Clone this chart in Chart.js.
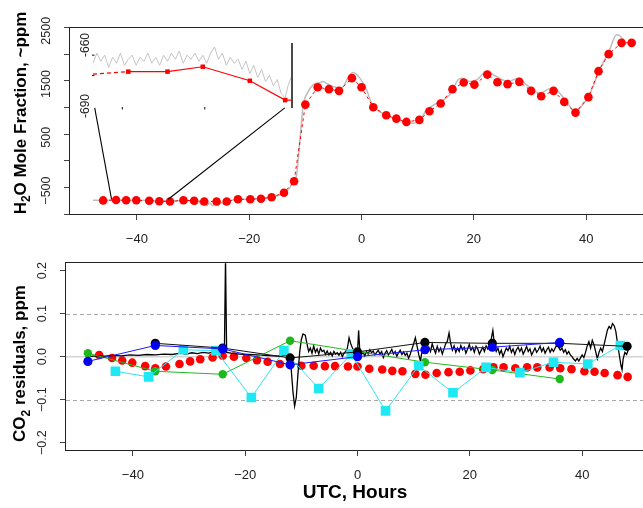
<!DOCTYPE html>
<html>
<head>
<meta charset="utf-8">
<script src="https://cdn.jsdelivr.net/npm/chart.js@4.4.0/dist/chart.umd.min.js"></script>
<style>
  html, body { margin: 0; padding: 0; background: #fff; }
  #page { position: relative; width: 643px; height: 508px; overflow: hidden; background: #fff; }
  #h2oChart { position: absolute; left: 0; top: 0; }
  #insetChart { position: absolute; left: 70px; top: 28px; }
  #co2Chart { position: absolute; left: 0; top: 250px; }
</style>
</head>
<body>
<div id="page">
  <canvas id="h2oChart" width="660" height="250"></canvas>
  <canvas id="insetChart" width="240" height="95"></canvas>
  <canvas id="co2Chart" width="660" height="258"></canvas>
</div>
<script>
// sample times shared by both panels (hours from UTC 0)
const sampleHours = [-46.0, -43.7, -41.9, -40.1, -37.8, -36.0, -34.1, -31.7, -29.8, -28.0, -25.8, -24.0,
  -22.0, -19.8, -17.9, -16.0, -13.8, -12.0, -10.0, -7.8, -5.8, -4.0, -1.7, 0.0,
  2.1, 4.4, 6.2, 8.0, 10.3, 12.1, 14.1, 16.2, 18.2, 20.1, 22.4, 24.2,
  26.0, 28.1, 30.2, 32.0, 34.2, 36.1, 38.1, 40.4, 42.2, 44.0, 46.3, 48.1];

const h2oPpm = [-685, -677, -683, -683, -690, -700, -705, -683, -690, -705, -705, -705,
  -664, -664, -653, -626, -540, -326, 1114, 1441, 1404, 1372, 1611, 1441,
  1064, 915, 851, 789, 827, 990, 1135, 1404, 1528, 1490, 1678, 1535,
  1498, 1541, 1372, 1272, 1372, 1165, 964, 1254, 1742, 2062, 2274, 2274];

const co2Resid = [0.004, -0.003, -0.009, -0.014, -0.022, -0.027, -0.023, -0.017, -0.011, -0.006, -0.002, 0.002,
  0.0, -0.003, -0.008, -0.012, -0.017, -0.019, -0.021, -0.021, -0.022, -0.022, -0.023, -0.023,
  -0.028, -0.030, -0.033, -0.034, -0.040, -0.042, -0.038, -0.036, -0.035, -0.032, -0.029, -0.025,
  -0.025, -0.027, -0.025, -0.025, -0.025, -0.027, -0.029, -0.034, -0.035, -0.038, -0.043, -0.047];

// continuous analyser record of H2O, [hours, ppm]
const h2oTrace = [[-47.8, -682], [-46, -684], [-44, -680], [-42, -682], [-40, -684], [-38, -688], [-36, -694],
  [-34, -696], [-32, -686], [-30.5, -690], [-30, -720], [-29.5, -760], [-29, -700], [-28.5, -770], [-28, -720],
  [-27.5, -780], [-27, -735], [-26.5, -785], [-26, -740], [-25.5, -775], [-25, -725], [-24.5, -760], [-24, -705],
  [-22, -668], [-20, -662], [-18, -650], [-16, -628], [-14.5, -580], [-13.2, -500], [-12.3, -380], [-11.6, -239],
  [-11, 400], [-10.4, 1077], [-9.5, 1359], [-8.6, 1485], [-7.4, 1528], [-6.9, 1547], [-6, 1500], [-5.1, 1453],
  [-3.6, 1423], [-2.1, 1673], [-1.5, 1716], [-0.3, 1611], [0.9, 1391], [1.8, 1141], [3.2, 983], [5.0, 889],
  [7.4, 795], [9.2, 765], [10.4, 827], [11.6, 1015], [13.4, 1141], [15.7, 1297], [17.2, 1579], [17.8, 1611],
  [19.3, 1547], [20.5, 1579], [22.3, 1735], [24.0, 1641], [26.1, 1547], [27.9, 1611], [29.4, 1485], [31.8, 1329],
  [33.8, 1423], [34.7, 1391], [36.5, 1171], [38.0, 983], [38.9, 1047], [40.7, 1329], [42.4, 1767], [44.2, 2150],
  [45.4, 2425], [46.0, 2406], [46.9, 2299]];

// zoomed window of the dry period
const insetSampleHours = [-45.8, -44.0, -42.0, -40.2, -37.8, -36.0, -35.65];
const insetSamplePpm = [-674.3, -673.1, -673.1, -670.7, -677.6, -687.1, -687.1];
const insetTrace = [[-45.8, -669], [-45.6, -664], [-45.4, -668], [-45.2, -665], [-45.0, -671], [-44.8, -666],
  [-44.6, -669], [-44.4, -664], [-44.2, -670], [-44.0, -667], [-43.8, -665], [-43.6, -670], [-43.4, -666],
  [-43.2, -668], [-43.0, -664], [-42.8, -669], [-42.6, -666], [-42.4, -670], [-42.2, -665], [-42.0, -668],
  [-41.8, -664], [-41.6, -667], [-41.4, -663], [-41.2, -669], [-41.0, -665], [-40.8, -667], [-40.6, -664],
  [-40.4, -668], [-40.2, -665], [-40.0, -669], [-39.8, -664], [-39.6, -661], [-39.4, -667], [-39.2, -664],
  [-39.0, -670], [-38.8, -666], [-38.6, -669], [-38.4, -667], [-38.2, -672], [-38.0, -668], [-37.8, -674],
  [-37.6, -670], [-37.4, -676], [-37.2, -672], [-37.0, -678], [-36.8, -675], [-36.6, -680], [-36.4, -677],
  [-36.2, -684], [-36.0, -686], [-35.85, -680], [-35.7, -676]];

// CO2 residuals of the other comparisons
const blueHours = [-48, -36, -24, -12, 0, 12, 24, 36];
const blueResid = [-0.011, 0.026, 0.018, -0.019, 0.0, 0.016, 0.022, 0.033];
const greenHours = [-48, -36, -24, -12, 12, 24, 36];
const greenResid = [0.008, -0.034, -0.041, 0.037, -0.013, -0.031, -0.052];
const blackHours = [-36, -24, -12, 0, 12, 24, 36, 48];
const blackResid = [0.031, 0.020, -0.003, 0.011, 0.033, 0.031, 0.031, 0.024];
const cyanHours = [-43.1, -37.2, -31.0, -25.2, -18.9, -13.1, -6.9, -1.1, 5.0, 10.9, 17.0, 22.9, 28.9, 34.9, 41.0, 46.8];
const cyanResid = [-0.034, -0.047, 0.016, 0.014, -0.095, 0.014, -0.074, 0.006, -0.126, -0.021, -0.084, -0.025,
  -0.037, -0.013, -0.017, 0.026];

// continuous CO2 residual record, [hours, ppm]
const co2Trace = [[-48, 0.0], [-46.5, 0.002], [-45, 0.001], [-43.5, 0.003], [-42, 0.002], [-40.5, 0.004],
  [-39, 0.003], [-37.5, 0.005], [-36, 0.004], [-34.5, 0.006], [-33, 0.005], [-31.5, 0.008], [-30.5, 0.006],
  [-29.5, 0.009], [-28.5, 0.007], [-27.5, 0.01], [-26.5, 0.008], [-25.5, 0.011], [-24.5, 0.009], [-23.7, 0.01],
  [-23.5, 0.23], [-23.3, 0.01], [-22.5, 0.008], [-21, 0.006], [-19.5, 0.005], [-18, 0.004], [-16.5, 0.003],
  [-15, 0.002], [-13.5, 0.001], [-12.6, 0.004], [-12.2, -0.004], [-11.8, -0.03], [-11.5, -0.08], [-11.2, -0.115],
  [-10.9, -0.095], [-10.6, -0.04], [-10.3, 0.01], [-10.0, 0.04], [-9.7, 0.053], [-9.3, 0.05], [-9.0, 0.03],
  [-8.7, 0.012], [-8.4, 0.02], [-8.1, 0.008], [-7.8, 0.025], [-7.5, 0.01], [-7.2, 0.018], [-6.9, 0.006],
  [-6.6, 0.02], [-6.3, 0.012], [-6.0, 0.015], [-5.7, 0.005], [-5.4, 0.013], [-5.1, 0.004], [-4.8, 0.01],
  [-4.5, 0.002], [-4.2, 0.012], [-3.9, 0.006], [-3.6, 0.009], [-3.3, 0.003], [-3.0, 0.01], [-2.7, 0.0],
  [-2.4, 0.008], [-2.1, 0.012], [-1.8, 0.02], [-1.5, 0.044], [-1.2, 0.03], [-0.9, 0.02], [-0.6, 0.012],
  [-0.3, 0.018], [0.0, 0.01], [0.2, 0.061], [0.4, 0.015], [0.7, 0.005], [1.0, 0.01], [1.3, 0.002], [1.6, 0.012],
  [1.9, 0.006], [2.2, 0.016], [2.5, 0.009], [2.8, 0.013], [3.1, 0.004], [3.4, 0.01], [3.7, 0.015], [4.0, 0.006],
  [4.3, 0.012], [4.6, -0.002], [4.9, 0.008], [5.2, 0.014], [5.5, 0.004], [5.8, 0.01], [6.1, 0.017], [6.4, 0.006],
  [6.7, 0.012], [7.0, 0.001], [7.3, 0.009], [7.6, 0.015], [7.9, 0.005], [8.2, 0.011], [8.5, 0.003], [8.8, 0.008],
  [9.1, -0.004], [9.4, 0.006], [9.7, 0.018], [10.0, 0.03], [10.3, 0.044], [10.6, 0.025], [10.9, 0.005],
  [11.2, -0.01], [11.5, 0.012], [11.8, 0.02], [12.1, 0.028], [12.4, 0.01], [12.7, 0.022], [13.0, 0.012],
  [13.3, 0.03], [13.6, 0.018], [13.9, 0.008], [14.2, 0.024], [14.5, 0.012], [14.8, 0.02], [15.1, 0.006],
  [15.4, 0.018], [15.7, 0.03], [16.0, 0.036], [16.3, 0.055], [16.6, 0.03], [16.9, 0.015], [17.2, 0.025],
  [17.5, 0.01], [17.8, 0.02], [18.1, 0.012], [18.4, 0.026], [18.7, 0.016], [19.0, 0.022], [19.3, 0.008],
  [19.6, 0.018], [19.9, 0.028], [20.2, 0.015], [20.5, 0.022], [20.8, 0.01], [21.1, 0.024], [21.4, 0.018],
  [21.7, 0.006], [22.0, 0.014], [22.3, 0.022], [22.6, 0.012], [22.9, 0.025], [23.2, 0.018], [23.5, 0.028],
  [23.8, 0.04], [24.1, 0.061], [24.4, 0.025], [24.7, 0.012], [25.0, 0.02], [25.3, 0.006], [25.6, 0.015],
  [25.9, 0.0], [26.2, 0.01], [26.5, 0.02], [26.8, 0.014], [27.1, 0.024], [27.4, 0.01], [27.7, 0.018],
  [28.0, 0.005], [28.3, 0.016], [28.6, 0.022], [28.9, 0.012], [29.2, 0.02], [29.5, 0.006], [29.8, 0.014],
  [30.1, 0.024], [30.4, 0.012], [30.7, 0.018], [31.0, 0.004], [31.3, 0.012], [31.6, 0.02], [31.9, 0.01],
  [32.2, 0.016], [32.5, 0.024], [32.8, 0.012], [33.1, 0.02], [33.4, 0.008], [33.7, 0.016], [34.0, 0.022],
  [34.3, 0.01], [34.6, 0.018], [34.9, 0.012], [35.2, 0.02], [35.5, 0.028], [35.8, 0.022], [36.1, 0.015],
  [36.4, 0.02], [36.7, 0.01], [37.0, 0.016], [37.3, 0.006], [37.6, 0.012], [37.9, 0.004], [38.2, 0.0],
  [38.5, -0.006], [38.8, -0.01], [39.1, -0.004], [39.4, -0.01], [39.7, -0.003], [40.0, 0.004], [40.3, -0.002],
  [40.6, 0.01], [40.9, 0.025], [41.2, 0.035], [41.5, 0.02], [41.8, 0.038], [42.1, 0.028], [42.4, 0.012],
  [42.7, -0.005], [43.0, 0.01], [43.3, 0.02], [43.6, 0.012], [43.9, 0.028], [44.2, 0.045], [44.5, 0.062],
  [44.8, 0.07], [45.1, 0.065], [45.4, 0.077], [45.7, 0.072], [46.0, 0.058], [46.3, 0.03], [46.6, 0.005],
  [46.9, -0.02], [47.1, -0.03], [47.3, -0.005], [47.6, 0.01], [47.9, 0.005], [48.2, 0.015]];

const h2oTickLabels = [2500, 1500, 500, -500];
const co2TickLabels = [0.2, 0.1, 0.0, -0.1, -0.2];
const hourTicks = [-40, -20, 0, 20, 40];

const FONT = "'Liberation Sans', Arial, Helvetica, sans-serif";
Chart.defaults.font.family = FONT;
Chart.defaults.color = '#222';

const toPoints = (xs, ys) => xs.map((x, i) => ({ x, y: ys[i] }));
const pairPoints = pairs => pairs.map(([x, y]) => ({ x, y }));
const signed = s => s.replace('-', '\u2212');

function hourAxis(height) {
  return {
    type: 'linear', min: -51.9, max: 51.9,
    afterFit: s => { s.height = height; },
    afterBuildTicks: s => { s.ticks = hourTicks.map(value => ({ value })); },
    border: { display: false },
    grid: { drawOnChartArea: false, drawTicks: true, tickLength: 6, tickColor: '#444' },
    ticks: { padding: 12, maxRotation: 0, font: { size: 13 }, color: '#222',
      callback: v => signed(String(v)) }
  };
}

function valueAxis(min, max, step, width) {
  return {
    type: 'linear', min, max,
    afterFit: s => { s.width = width; },
    border: { display: false },
    grid: { drawOnChartArea: false, drawTicks: true, tickLength: 6, tickColor: '#444' },
    ticks: { stepSize: step, includeBounds: false, display: false }
  };
}

function drawBox(chart) {
  const { ctx, chartArea: a } = chart;
  ctx.save();
  ctx.strokeStyle = '#222';
  ctx.lineWidth = 1;
  const l = Math.round(a.left) - 0.5, t = Math.round(a.top) - 0.5;
  ctx.strokeRect(l, t, Math.round(a.right) - l + 0.5, Math.round(a.bottom) - t + 0.5);
  ctx.restore();
}

// R style vertical tick labels along the left axis
function drawYTickLabels(chart, values, fmt) {
  const { ctx, chartArea: a, scales: { y } } = chart;
  ctx.save();
  ctx.font = '12.5px ' + FONT;
  ctx.fillStyle = '#222';
  ctx.textAlign = 'center';
  ctx.textBaseline = 'alphabetic';
  values.forEach(v => {
    ctx.save();
    ctx.translate(a.left - 20.5, y.getPixelForValue(v));
    ctx.rotate(-Math.PI / 2);
    ctx.fillText(fmt(v), 0, 0);
    ctx.restore();
  });
  ctx.restore();
}

// bold rotated axis title, pieces flagged sub are set as subscripts
function drawYTitle(ctx, cx, cy, pieces) {
  const size = 17;
  ctx.save();
  ctx.translate(cx, cy);
  ctx.rotate(-Math.PI / 2);
  ctx.fillStyle = '#000';
  ctx.textBaseline = 'alphabetic';
  ctx.textAlign = 'left';
  const fontFor = p => 'bold ' + (p.sub ? 12 : size) + 'px ' + FONT;
  let total = 0;
  pieces.forEach(p => { ctx.font = fontFor(p); total += ctx.measureText(p.t).width; });
  let x = -total / 2;
  pieces.forEach(p => {
    ctx.font = fontFor(p);
    ctx.fillText(p.t, x, p.sub ? 4.5 : 0);
    x += ctx.measureText(p.t).width;
  });
  ctx.restore();
}

const h2oFrame = {
  id: 'h2oFrame',
  afterDatasetsDraw(chart) {
    const { ctx, scales: { x, y } } = chart;
    // lines tying the zoom window to the dry segment
    const links = [[-47.5, 1052, -44.5, -664], [-13.66, 1052, -34.4, -664]];
    ctx.save();
    ctx.strokeStyle = '#000';
    ctx.lineWidth = 1.1;
    links.forEach(([x0, y0, x1, y1]) => {
      ctx.beginPath();
      ctx.moveTo(x.getPixelForValue(x0), y.getPixelForValue(y0));
      ctx.lineTo(x.getPixelForValue(x1), y.getPixelForValue(y1));
      ctx.stroke();
    });
    ctx.restore();
  },
  afterDraw(chart) {
    drawBox(chart);
    drawYTickLabels(chart, h2oTickLabels, v => signed(String(v)));
    drawYTitle(chart.ctx, 25.5, 113, [{ t: 'H' }, { t: '2', sub: true }, { t: 'O Mole Fraction, ~ppm' }]);
  }
};

const co2Frame = {
  id: 'co2Frame',
  beforeDatasetsDraw(chart) {
    const { ctx, chartArea: a, scales: { y } } = chart;
    ctx.save();
    ctx.strokeStyle = '#d4d4d4';
    ctx.lineWidth = 1.5;
    const y0 = y.getPixelForValue(0);
    ctx.beginPath(); ctx.moveTo(a.left, y0); ctx.lineTo(a.right, y0); ctx.stroke();
    ctx.strokeStyle = '#a8a8a8';
    ctx.lineWidth = 1;
    ctx.setLineDash([4, 3]);
    [0.1, -0.1].forEach(v => {
      const py = Math.round(y.getPixelForValue(v)) + 0.5;
      ctx.beginPath(); ctx.moveTo(a.left, py); ctx.lineTo(a.right, py); ctx.stroke();
    });
    ctx.restore();
  },
  afterDraw(chart) {
    const { ctx } = chart;
    drawBox(chart);
    drawYTickLabels(chart, co2TickLabels, v => signed(v.toFixed(1)));
    drawYTitle(ctx, 25, 113.5, [{ t: 'CO' }, { t: '2', sub: true }, { t: ' residuals, ppm' }]);
    ctx.save();
    ctx.font = 'bold 19px ' + FONT;
    ctx.fillStyle = '#000';
    ctx.textAlign = 'center';
    ctx.textBaseline = 'alphabetic';
    ctx.fillText('UTC, Hours', 355, 248);
    ctx.restore();
  }
};

const insetFrame = {
  id: 'insetFrame',
  afterDraw(chart) {
    const { ctx, chartArea: a, scales: { x, y } } = chart;
    ctx.save();
    ctx.font = '12px ' + FONT;
    ctx.fillStyle = '#222';
    ctx.textAlign = 'center';
    ctx.textBaseline = 'middle';
    [-660, -690].forEach(v => {
      ctx.save();
      ctx.translate(a.left - 7, y.getPixelForValue(v));
      ctx.rotate(-Math.PI / 2);
      ctx.fillText(String(v), 0, 0);
      ctx.restore();
    });
    // tiny axis marks
    ctx.strokeStyle = '#333';
    ctx.lineWidth = 1.2;
    [-665, -675].forEach(v => {
      const py = y.getPixelForValue(v);
      ctx.beginPath(); ctx.moveTo(a.left - 1, py); ctx.lineTo(a.left + 1.5, py); ctx.stroke();
    });
    [-44.3, -40.1].forEach(v => {
      const px = x.getPixelForValue(v);
      ctx.beginPath(); ctx.moveTo(px, a.bottom - 1); ctx.lineTo(px, a.bottom + 1.5); ctx.stroke();
    });
    // right edge of the window
    ctx.strokeStyle = '#4a4a4a';
    ctx.lineWidth = 2;
    ctx.beginPath(); ctx.moveTo(a.right, a.top + 8); ctx.lineTo(a.right, a.bottom); ctx.stroke();
    ctx.restore();
  }
};

const common = {
  responsive: false,
  animation: false,
  devicePixelRatio: 1,
  events: [],
  plugins: { legend: { display: false }, tooltip: { enabled: false } }
};

new Chart(document.getElementById('h2oChart'), {
  type: 'scatter',
  data: {
    datasets: [
      { label: 'flask H2O', data: toPoints(sampleHours, h2oPpm), showLine: true,
        borderColor: '#ff0000', borderWidth: 1, borderDash: [3, 3],
        pointRadius: 4.3, pointBackgroundColor: '#ff0000', pointBorderWidth: 0, order: 0 },
      { label: 'analyser H2O', data: pairPoints(h2oTrace), showLine: true,
        borderColor: '#bdbdbd', borderWidth: 1.5, pointRadius: 0,
        cubicInterpolationMode: 'monotone', order: 1 }
    ]
  },
  options: {
    ...common,
    layout: { padding: { top: 27.5, right: 7, bottom: 0, left: 0 } },
    scales: {
      x: hourAxis(36),
      y: valueAxis(-940, 2562, 500, 70)
    }
  },
  plugins: [h2oFrame]
});

new Chart(document.getElementById('insetChart'), {
  type: 'scatter',
  data: {
    datasets: [
      { label: 'flask H2O', data: toPoints(insetSampleHours, insetSamplePpm), showLine: true,
        borderColor: '#ff0000', borderWidth: 1.2,
        segment: { borderDash: c => (c.p0DataIndex === 0 ? [4, 3] : undefined) },
        pointStyle: 'rect', pointRadius: [0, 3.2, 3.2, 3.2, 3.2, 3.2, 0],
        pointBackgroundColor: '#ff0000', pointBorderWidth: 0, order: 0 },
      { label: 'analyser H2O', data: pairPoints(insetTrace), showLine: true,
        borderColor: '#c4c4c4', borderWidth: 1, pointRadius: 0, order: 1 }
    ]
  },
  options: {
    ...common,
    layout: { padding: { top: 7, right: 18, bottom: 15, left: 23 } },
    scales: {
      x: { type: 'linear', min: -45.8, max: -35.65, display: false },
      y: { type: 'linear', min: -690.98, max: -655.08, display: false }
    }
  },
  plugins: [insetFrame]
});

new Chart(document.getElementById('co2Chart'), {
  type: 'scatter',
  data: {
    datasets: [
      { label: 'blue', data: toPoints(blueHours, blueResid), showLine: true,
        borderColor: '#1a1aff', borderWidth: 1, pointRadius: 4.6,
        pointBackgroundColor: '#0000f0', pointBorderWidth: 0, order: 0 },
      { label: 'black', data: toPoints(blackHours, blackResid), showLine: true,
        borderColor: '#111', borderWidth: 1, pointRadius: 4.6,
        pointBackgroundColor: '#000', pointBorderWidth: 0, order: 1 },
      { label: 'cyan', data: toPoints(cyanHours, cyanResid), showLine: true,
        borderColor: '#2ee6f2', borderWidth: 1, pointStyle: 'rect', pointRadius: 6.8,
        pointBackgroundColor: '#1de8f4', pointBorderWidth: 0, order: 2 },
      { label: 'green', data: toPoints(greenHours, greenResid), showLine: true,
        borderColor: '#22b822', borderWidth: 1, pointRadius: 4.2,
        pointBackgroundColor: '#1cb81c', pointBorderWidth: 0, order: 3 },
      { label: 'continuous', data: pairPoints(co2Trace), showLine: true,
        borderColor: '#000', borderWidth: 1.3, pointRadius: 0, clip: 0, order: 4 },
      { label: 'flask', data: toPoints(sampleHours, co2Resid), showLine: false,
        pointRadius: 4.3, pointBackgroundColor: '#ff0000', pointBorderWidth: 0, order: 5 }
    ]
  },
  options: {
    ...common,
    layout: { padding: { top: 13.3, right: 11, bottom: 0, left: 0 } },
    scales: {
      x: hourAxis(58),
      y: valueAxis(-0.217, 0.217, 0.1, 66)
    }
  },
  plugins: [co2Frame]
});
</script>
</body>
</html>
